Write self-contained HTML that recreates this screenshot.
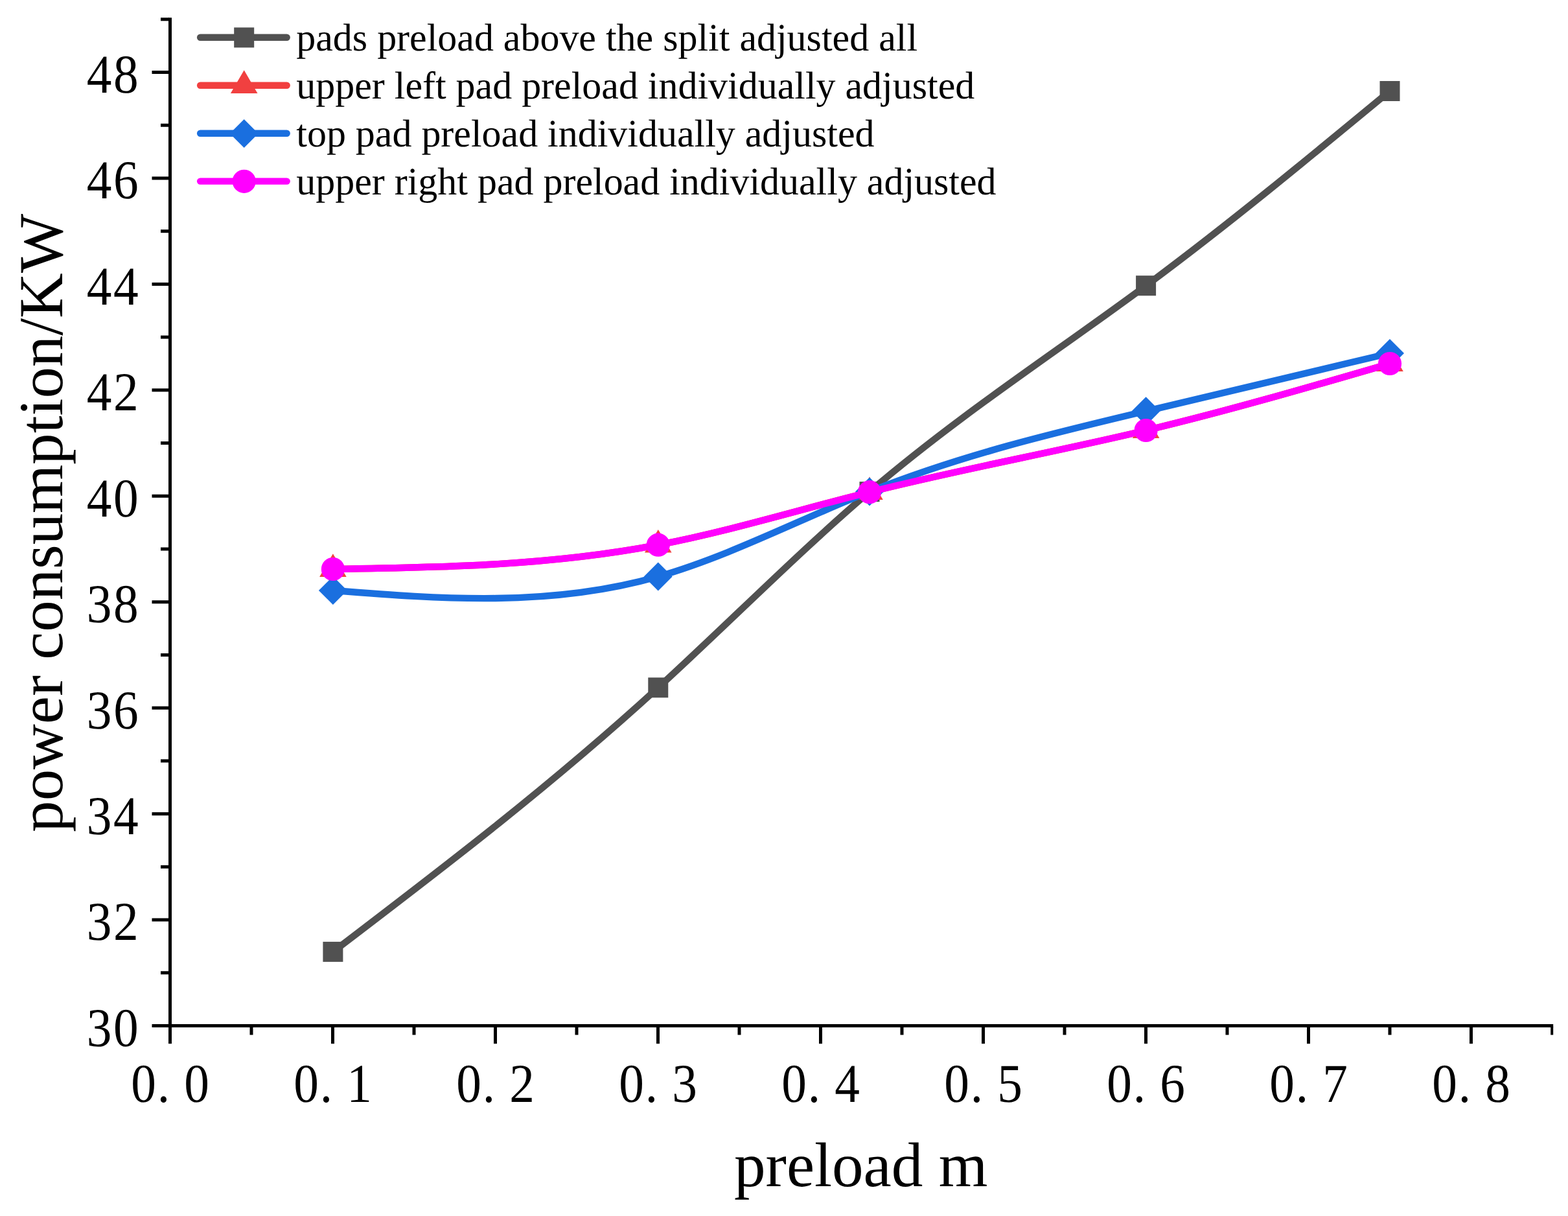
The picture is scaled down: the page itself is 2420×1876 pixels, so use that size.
<!DOCTYPE html>
<html lang="en"><head><meta charset="utf-8"><title>power consumption vs preload m</title>
<style>html,body{margin:0;padding:0;background:#fff}body{width:2420px;height:1876px;overflow:hidden}svg{display:block}text{font-family:"Liberation Serif",serif;fill:#000;text-rendering:geometricPrecision}</style>
</head><body>
<svg width="2420" height="1876" viewBox="0 0 2420 1876">
<rect width="2420" height="1876" fill="#fff"/>
<g fill="#000">
<rect x="260" y="27.28" width="5" height="1557.72"/>
<rect x="260" y="1580" width="2137.2" height="5"/>
<rect x="234.5" y="1580" width="26.5" height="5"/>
<rect x="248" y="1498.28" width="13" height="5"/>
<rect x="234.5" y="1416.56" width="26.5" height="5"/>
<rect x="248" y="1334.83" width="13" height="5"/>
<rect x="234.5" y="1253.11" width="26.5" height="5"/>
<rect x="248" y="1171.39" width="13" height="5"/>
<rect x="234.5" y="1089.67" width="26.5" height="5"/>
<rect x="248" y="1007.94" width="13" height="5"/>
<rect x="234.5" y="926.22" width="26.5" height="5"/>
<rect x="248" y="844.5" width="13" height="5"/>
<rect x="234.5" y="762.78" width="26.5" height="5"/>
<rect x="248" y="681.06" width="13" height="5"/>
<rect x="234.5" y="599.33" width="26.5" height="5"/>
<rect x="248" y="517.61" width="13" height="5"/>
<rect x="234.5" y="435.89" width="26.5" height="5"/>
<rect x="248" y="354.17" width="13" height="5"/>
<rect x="234.5" y="272.44" width="26.5" height="5"/>
<rect x="248" y="190.72" width="13" height="5"/>
<rect x="234.5" y="109" width="26.5" height="5"/>
<rect x="248" y="27.28" width="13" height="5"/>
<rect x="260" y="1584" width="5" height="26.2"/>
<rect x="385.5" y="1584" width="5" height="12.6"/>
<rect x="511" y="1584" width="5" height="26.2"/>
<rect x="636.5" y="1584" width="5" height="12.6"/>
<rect x="762" y="1584" width="5" height="26.2"/>
<rect x="887.5" y="1584" width="5" height="12.6"/>
<rect x="1013" y="1584" width="5" height="26.2"/>
<rect x="1138.5" y="1584" width="5" height="12.6"/>
<rect x="1264" y="1584" width="5" height="26.2"/>
<rect x="1389.5" y="1584" width="5" height="12.6"/>
<rect x="1515" y="1584" width="5" height="26.2"/>
<rect x="1640.5" y="1584" width="5" height="12.6"/>
<rect x="1766" y="1584" width="5" height="26.2"/>
<rect x="1891.5" y="1584" width="5" height="12.6"/>
<rect x="2017" y="1584" width="5" height="26.2"/>
<rect x="2142.5" y="1584" width="5" height="12.6"/>
<rect x="2268" y="1584" width="5" height="26.2"/>
<rect x="2393.2" y="1584" width="4" height="12.6"/>
</g>
<g font-size="84.5">
<text transform="scale(0.915 1)" x="146.09 191.22" y="1613.9">30</text>
<text transform="scale(0.915 1)" x="146.09 191.22" y="1450.46">32</text>
<text transform="scale(0.915 1)" x="146.09 191.22" y="1287.01">34</text>
<text transform="scale(0.915 1)" x="146.09 191.22" y="1123.57">36</text>
<text transform="scale(0.915 1)" x="146.09 191.22" y="960.12">38</text>
<text transform="scale(0.915 1)" x="146.09 191.22" y="796.68">40</text>
<text transform="scale(0.915 1)" x="146.09 191.22" y="633.23">42</text>
<text transform="scale(0.915 1)" x="146.09 191.22" y="469.79">44</text>
<text transform="scale(0.915 1)" x="146.09 191.22" y="306.34">46</text>
<text transform="scale(0.915 1)" x="146.09 191.22" y="142.9">48</text>
<text transform="scale(0.915 1)" x="220.95 265.28 310.57" y="1699.6">0.0</text>
<text transform="scale(0.915 1)" x="495.27 539.6 584.89" y="1699.6">0.1</text>
<text transform="scale(0.915 1)" x="769.59 813.92 859.2" y="1699.6">0.2</text>
<text transform="scale(0.915 1)" x="1043.9 1088.24 1133.52" y="1699.6">0.3</text>
<text transform="scale(0.915 1)" x="1318.22 1362.55 1407.84" y="1699.6">0.4</text>
<text transform="scale(0.915 1)" x="1592.54 1636.87 1682.15" y="1699.6">0.5</text>
<text transform="scale(0.915 1)" x="1866.85 1911.19 1956.47" y="1699.6">0.6</text>
<text transform="scale(0.915 1)" x="2141.17 2185.5 2230.79" y="1699.6">0.7</text>
<text transform="scale(0.915 1)" x="2415.49 2459.82 2505.1" y="1699.6">0.8</text>
</g>
<text x="1328.6" y="1830.1" font-size="97.2" text-anchor="middle">preload m</text>
<text transform="translate(96.3 806.7) rotate(-90)" font-size="96.75" text-anchor="middle">power consumption/KW</text>
<path d="M513.9 1468.4C681.19 1341.03 848.49 1213.67 1015.78 1060.8C1124.52 961.44 1233.26 851.3 1342 758.6C1484.2 637.37 1626.4 545.96 1768.6 440.7C1894.07 347.82 2019.54 244.16 2145.01 140.5" fill="none" stroke="#515151" stroke-width="10.4" stroke-linejoin="round"/>
<rect x="498.4" y="1452.9" width="31" height="31" fill="#515151"/>
<rect x="1000.28" y="1045.3" width="31" height="31" fill="#515151"/>
<rect x="1326.5" y="743.1" width="31" height="31" fill="#515151"/>
<rect x="1753.1" y="425.2" width="31" height="31" fill="#515151"/>
<rect x="2129.51" y="125" width="31" height="31" fill="#515151"/>
<path d="M513.9 878C681.19 875.39 848.49 872.79 1015.78 840.7C1124.52 819.84 1233.26 786.53 1342 759.2C1484.2 723.46 1626.4 697.95 1768.6 664C1894.07 634.05 2019.54 597.52 2145.01 561" fill="none" stroke="#F14040" stroke-width="10.4" stroke-linejoin="round"/>
<path d="M513.9 854.2L534.7 889.9L493.1 889.9Z" fill="#F14040"/>
<path d="M1015.78 816.9L1036.58 852.6L994.98 852.6Z" fill="#F14040"/>
<path d="M1342 735.4L1362.8 771.1L1321.2 771.1Z" fill="#F14040"/>
<path d="M1768.6 640.2L1789.4 675.9L1747.8 675.9Z" fill="#F14040"/>
<path d="M2145.01 537.2L2165.81 572.9L2124.21 572.9Z" fill="#F14040"/>
<path d="M513.9 911C681.19 924.1 848.49 937.19 1015.78 889.5C1124.52 858.5 1233.26 801.82 1342 758.5C1484.2 701.85 1626.4 668.06 1768.6 634.3C1894.07 604.51 2019.54 574.76 2145.01 545" fill="none" stroke="#1A6FDF" stroke-width="10.4" stroke-linejoin="round"/>
<path d="M491.9 911L513.9 889L535.9 911L513.9 933Z" fill="#1A6FDF"/>
<path d="M993.78 889.5L1015.78 867.5L1037.78 889.5L1015.78 911.5Z" fill="#1A6FDF"/>
<path d="M1320 758.5L1342 736.5L1364 758.5L1342 780.5Z" fill="#1A6FDF"/>
<path d="M1746.6 634.3L1768.6 612.3L1790.6 634.3L1768.6 656.3Z" fill="#1A6FDF"/>
<path d="M2123.01 545L2145.01 523L2167.01 545L2145.01 567Z" fill="#1A6FDF"/>
<path d="M513.9 878C681.19 875.39 848.49 872.79 1015.78 840.7C1124.52 819.84 1233.26 786.53 1342 759.2C1484.2 723.46 1626.4 697.95 1768.6 664C1894.07 634.05 2019.54 597.52 2145.01 561" fill="none" stroke="#FF00FF" stroke-width="10.4" stroke-linejoin="round"/>
<circle cx="513.9" cy="878" r="18.1" fill="#FF00FF"/>
<circle cx="1015.78" cy="840.7" r="18.1" fill="#FF00FF"/>
<circle cx="1342" cy="759.2" r="18.1" fill="#FF00FF"/>
<circle cx="1768.6" cy="664" r="18.1" fill="#FF00FF"/>
<circle cx="2145.01" cy="561" r="18.1" fill="#FF00FF"/>
<path d="M309.1 57.7H442.7" stroke="#515151" stroke-width="10.4" stroke-linecap="round" fill="none"/>
<rect x="361.2" y="42.4" width="31" height="31" fill="#515151"/>
<text x="457.3" y="78.2" font-size="59.95">pads preload above the split adjusted all</text>
<path d="M309.1 131.8H442.7" stroke="#F14040" stroke-width="10.4" stroke-linecap="round" fill="none"/>
<path d="M376.7 108.2L397.5 143.9L355.9 143.9Z" fill="#F14040"/>
<text x="457.3" y="152.3" font-size="59.95">upper left pad preload individually adjusted</text>
<path d="M309.1 205.7H442.7" stroke="#1A6FDF" stroke-width="10.4" stroke-linecap="round" fill="none"/>
<path d="M354.7 205.9L376.7 183.9L398.7 205.9L376.7 227.9Z" fill="#1A6FDF"/>
<text x="457.3" y="226.2" font-size="59.95">top pad preload individually adjusted</text>
<path d="M309.1 279.6H442.7" stroke="#FF00FF" stroke-width="10.4" stroke-linecap="round" fill="none"/>
<circle cx="376.7" cy="279.8" r="18.1" fill="#FF00FF"/>
<text x="457.3" y="300.1" font-size="59.95">upper right pad preload individually adjusted</text>
</svg>
</body></html>
